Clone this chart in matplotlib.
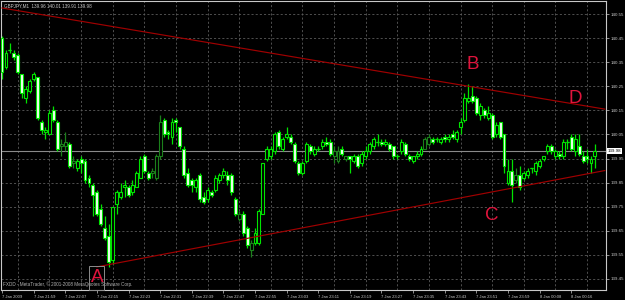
import matplotlib
matplotlib.use("Agg")
import matplotlib.pyplot as plt
from matplotlib.patches import Rectangle
import numpy as np

# ── GBPJPY M1, 7 Jan 2009 21:51 → 8 Jan 00:23 ──
OPEN = [140.45, 140.33, 140.40, 140.39, 140.38, 140.30, 140.20, 140.23, 140.28, 140.29,
        140.10, 140.06, 140.05, 140.15, 140.10, 140.00, 140.00, 140.01, 139.93, 139.91,
        139.95, 139.94, 139.87, 139.84, 139.81, 139.74, 139.66, 139.63, 139.53, 139.76,
        139.79, 139.83, 139.83, 139.81, 139.83, 139.87, 139.96, 139.89, 139.89, 139.87,
        139.96, 140.11, 140.06, 140.04, 140.11, 140.08, 139.99, 139.89, 139.86, 139.83,
        139.88, 139.79, 139.78, 139.81, 139.82, 139.86, 139.88, 139.88, 139.88, 139.78,
        139.70, 139.72, 139.66, 139.57, 139.60, 139.60, 139.72, 139.95, 139.96, 139.98,
        140.06, 139.99, 140.04, 140.04, 140.01, 139.93, 139.89, 139.94, 140.00, 139.97,
        139.99, 140.00, 140.02, 140.02, 139.96, 139.94, 139.99, 139.95, 139.96, 139.94,
        139.96, 139.93, 139.96, 139.98, 140.00, 140.02, 140.02, 140.01, 140.01, 140.00,
        139.96, 139.98, 140.01, 139.96, 139.94, 139.96, 139.97, 139.99, 140.01, 140.03,
        140.03, 140.02, 140.04, 140.03, 140.05, 140.03, 140.08, 140.11, 140.19, 140.21,
        140.20, 140.13, 140.15, 140.12, 140.13, 140.05, 140.10, 140.05, 139.85, 139.90,
        139.86, 139.88, 139.87, 139.88, 139.91, 139.90, 139.92, 139.95, 139.98, 140.00,
        139.96, 139.97, 139.96, 140.02, 140.04, 139.98, 140.00, 139.96, 139.96, 139.93,
        139.96]
HIGH = [140.46, 140.40, 140.43, 140.40, 140.39, 140.30, 140.25, 140.28, 140.31, 140.29,
        140.11, 140.08, 140.15, 140.17, 140.11, 140.03, 140.06, 140.02, 139.96, 139.95,
        139.96, 139.95, 139.88, 139.85, 139.82, 139.76, 139.71, 139.68, 139.75, 139.82,
        139.85, 139.86, 139.84, 139.86, 139.90, 139.96, 139.97, 139.90, 139.91, 139.97,
        140.13, 140.12, 140.07, 140.12, 140.12, 140.08, 140.00, 139.91, 139.87, 139.87,
        139.89, 139.81, 139.83, 139.82, 139.88, 139.89, 139.91, 139.90, 139.89, 139.79,
        139.73, 139.73, 139.67, 139.61, 139.66, 139.74, 139.93, 140.00, 140.00, 140.06,
        140.07, 140.04, 140.08, 140.05, 140.02, 139.94, 139.94, 140.02, 140.01, 140.00,
        140.00, 140.03, 140.04, 140.03, 140.00, 140.00, 140.00, 139.96, 139.96, 139.97,
        139.97, 139.98, 140.00, 140.02, 140.04, 140.05, 140.03, 140.03, 140.02, 140.00,
        139.97, 140.03, 140.02, 139.97, 139.96, 139.98, 140.00, 140.04, 140.05, 140.04,
        140.04, 140.04, 140.05, 140.05, 140.07, 140.07, 140.12, 140.22, 140.26, 140.25,
        140.21, 140.18, 140.16, 140.17, 140.14, 140.10, 140.10, 140.05, 139.95, 139.95,
        139.91, 139.92, 139.90, 139.91, 139.91, 139.94, 139.95, 139.96, 140.01, 140.01,
        139.99, 139.98, 140.03, 140.03, 140.05, 140.05, 140.05, 139.98, 139.99, 139.96,
        140.01]
LOW = [140.28, 140.32, 140.39, 140.36, 140.30, 140.20, 140.18, 140.22, 140.27, 140.11,
       140.05, 140.03, 140.05, 140.10, 139.98, 139.96, 139.98, 139.91, 139.91, 139.90,
       139.89, 139.85, 139.83, 139.71, 139.71, 139.67, 139.61, 139.50, 139.51, 139.72,
       139.78, 139.79, 139.79, 139.80, 139.83, 139.87, 139.89, 139.86, 139.87, 139.86,
       139.95, 140.04, 140.03, 140.01, 140.06, 139.99, 139.87, 139.83, 139.81, 139.81,
       139.77, 139.76, 139.77, 139.79, 139.81, 139.85, 139.87, 139.84, 139.80, 139.71,
       139.69, 139.63, 139.58, 139.54, 139.59, 139.59, 139.72, 139.94, 139.95, 139.97,
       139.99, 139.98, 140.03, 140.01, 139.93, 139.88, 139.88, 139.93, 139.97, 139.96,
       139.98, 139.99, 140.00, 139.96, 139.93, 139.93, 139.96, 139.94, 139.89, 139.93,
       139.91, 139.92, 139.95, 139.97, 139.99, 140.00, 140.00, 140.00, 139.98, 139.95,
       139.95, 139.97, 139.96, 139.94, 139.93, 139.95, 139.96, 139.99, 140.00, 140.01,
       140.02, 140.01, 140.02, 140.02, 140.03, 140.02, 140.05, 140.10, 140.18, 140.18,
       140.13, 140.11, 140.12, 140.11, 140.03, 140.04, 140.03, 139.89, 139.84, 139.77,
       139.85, 139.82, 139.86, 139.87, 139.89, 139.88, 139.91, 139.94, 139.97, 139.97,
       139.95, 139.95, 139.95, 139.99, 139.98, 139.96, 139.96, 139.93, 139.93, 139.89,
       139.91]
CLOSE = [140.31, 140.39, 140.40, 140.37, 140.31, 140.22, 140.24, 140.27, 140.30, 140.12,
         140.07, 140.07, 140.14, 140.11, 139.99, 140.01, 140.02, 139.92, 139.94, 139.94,
         139.93, 139.86, 139.85, 139.80, 139.72, 139.68, 139.62, 139.52, 139.75, 139.81,
         139.81, 139.84, 139.80, 139.84, 139.89, 139.95, 139.90, 139.87, 139.90, 139.96,
         140.10, 140.05, 140.05, 140.10, 140.10, 140.00, 139.88, 139.84, 139.84, 139.86,
         139.78, 139.77, 139.82, 139.80, 139.87, 139.88, 139.90, 139.86, 139.81, 139.72,
         139.72, 139.64, 139.59, 139.60, 139.64, 139.73, 139.93, 139.99, 139.99, 140.05,
         140.00, 140.03, 140.05, 140.02, 139.94, 139.89, 139.93, 140.01, 139.98, 139.99,
         139.99, 140.02, 140.01, 139.97, 139.98, 139.98, 139.97, 139.96, 139.95, 139.96,
         139.92, 139.97, 139.98, 140.01, 140.03, 140.02, 140.01, 140.02, 139.99, 139.96,
         139.96, 140.02, 139.97, 139.95, 139.96, 139.97, 139.99, 140.03, 140.04, 140.02,
         140.03, 140.03, 140.03, 140.04, 140.04, 140.06, 140.10, 140.20, 140.20, 140.19,
         140.14, 140.17, 140.13, 140.14, 140.04, 140.09, 140.04, 139.92, 139.90, 139.84,
         139.88, 139.83, 139.89, 139.90, 139.91, 139.93, 139.94, 139.96, 140.00, 139.98,
         139.98, 139.96, 140.02, 140.02, 139.99, 140.03, 139.97, 139.94, 139.95, 139.95,
         139.98]

# bars the terminal drew in a darker green
DIM_BARS = [15, 16, 18, 38, 39, 40, 60, 63, 84, 85, 87, 107, 108, 130]

TIME_LABELS = ["7 Jan 2009", "7 Jan 21:59", "7 Jan 22:07", "7 Jan 22:15", "7 Jan 22:23",
               "7 Jan 22:31", "7 Jan 22:39", "7 Jan 22:47", "7 Jan 22:55", "7 Jan 23:03",
               "7 Jan 23:11", "7 Jan 23:19", "7 Jan 23:27", "7 Jan 23:35", "7 Jan 23:43",
               "7 Jan 23:51", "7 Jan 23:59", "8 Jan 00:08", "8 Jan 00:16"]
PRICE_TICKS = [139.45, 139.55, 139.65, 139.75, 139.85, 139.95,
               140.05, 140.15, 140.25, 140.35, 140.45, 140.55]
LAST_PRICE = 139.98
HEADER = "GBPJPY,M1  139.96 140.01 139.91 139.98"
COPYRIGHT = "FXDD - MetaTrader, © 2001-2008 MetaQuotes Software Corp."

# trendlines: (bar, price) anchors
UPPER_LINE = [(0, 140.575), (152.5, 140.155)]
LOWER_LINE = [(24, 139.50), (152.5, 139.90)]

# wave labels: (text, bar, price)
WAVE_LABELS = [("A", 23.97, 139.454), ("B", 119.0, 140.342),
               ("C", 123.9, 139.712), ("D", 145.1, 140.200)]

# ══════════════════════════════════════════════════════════════════════════════
FONT = "Liberation Sans"
GREEN = "#00e400"
DIM_GREEN = "#1b801b"
BEAR_FILL = "#f4fff4"
AXIS_FG = "#c8c8c8"
GRID = "#5c5c5c"
LINE_RED = "#a00000"
TEXT_RED = "#e0143c"

o, h, l, c = map(np.array, (OPEN, HIGH, LOW, CLOSE))
x = np.arange(len(o))

fig = plt.figure(figsize=(6.25, 3.0), dpi=100, facecolor="black")
ax = fig.add_axes([1.5 / 625, 10 / 300, 604.5 / 625, 289 / 300])
ax.set_facecolor("black")
ax.set_xlim(-0.13, 152.8)
ax.set_ylim(139.404, 140.604)

# grid
for p in PRICE_TICKS:
    ax.axhline(p, color=GRID, lw=0.6, ls=(0, (2.5, 2.5)), zorder=0)
for gx in range(4, 153, 8):
    ax.axvline(gx, color=GRID, lw=0.6, ls=(0, (2.5, 2.5)), zorder=0)

# current price line
ax.axhline(LAST_PRICE, color="#8a8a8a", lw=0.8, zorder=1)

# candles
edge = np.array([DIM_GREEN if i in DIM_BARS else GREEN for i in x])
bull = c >= o
ax.vlines(x, l, h, colors=edge, lw=0.9, zorder=2)
face = np.where(bull, "black", BEAR_FILL)
face = np.where(np.isin(x, DIM_BARS), "black", face)
ax.bar(x, c - o, bottom=o, width=0.74, color=face, edgecolor=edge,
       linewidth=0.8, zorder=3)
doji = np.abs(c - o) < 0.005
ax.hlines(o[doji], x[doji] - 0.37, x[doji] + 0.37, colors=edge[doji], lw=0.9, zorder=3)

# trendlines
for (x0, y0), (x1, y1) in (UPPER_LINE, LOWER_LINE):
    ax.plot([x0, x1], [y0, y1], color=LINE_RED, lw=0.85, zorder=4)

# wave labels
for name, bx, by in WAVE_LABELS:
    ax.text(bx, by, name, color=TEXT_RED, fontsize=13.5, family=FONT,
            ha="center", va="center", zorder=5)
    if name == "A":
        ax.add_patch(Rectangle((bx - 1.9, by - 0.05), 3.8, 0.1, fill=False,
                               ec="#8c8c8c", lw=0.7, zorder=5, clip_on=False))

# texts
ax.text(0.004, 0.993, HEADER, transform=ax.transAxes, color=AXIS_FG,
        fontsize=3.3, family=FONT, ha="left", va="top")
ax.text(0.003, 0.012, COPYRIGHT, transform=ax.transAxes, color="#b0b0b0",
        fontsize=3.3, family=FONT, ha="left", va="bottom")

# axes
for s in ax.spines.values():
    s.set_color(AXIS_FG)
    s.set_linewidth(0.8)

ax.yaxis.tick_right()
ax.set_yticks(PRICE_TICKS)
ax.set_yticklabels([f"{p:.2f}" for p in PRICE_TICKS], family=FONT)
ax.tick_params(axis="y", direction="out", length=2, width=0.5, colors=AXIS_FG,
               labelsize=3.2, pad=1.2)

ax.set_xticks(np.arange(0, 8 * len(TIME_LABELS), 8))
ax.set_xticklabels(TIME_LABELS, family=FONT, ha="left")
ax.tick_params(axis="x", direction="out", length=2.5, width=0.5, colors=AXIS_FG,
               labelsize=3.0, pad=1.0)

ax.text(1.003, LAST_PRICE, f"{LAST_PRICE:.2f}", transform=ax.get_yaxis_transform(),
        color="black", fontsize=3.2, family=FONT, ha="left", va="center",
        bbox=dict(boxstyle="square,pad=0.25", fc="white", ec="none"), clip_on=False)

fig.savefig("out.png", dpi=100, facecolor="black")
